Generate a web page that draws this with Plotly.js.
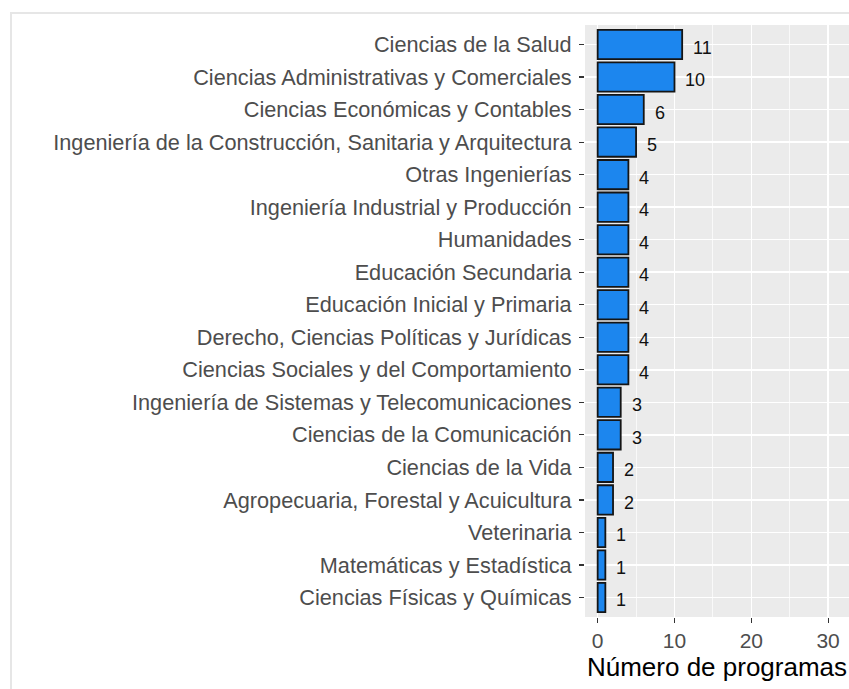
<!DOCTYPE html>
<html>
<head>
<meta charset="utf-8">
<script src="https://cdn.plot.ly/plotly-3.0.1.min.js"></script>
<style>
  html, body { margin:0; padding:0; background:#ffffff; overflow:hidden; }
  #wrap { position:relative; width:849px; height:689px; }
  #chart { position:absolute; left:0; top:0; width:849px; height:689px; }
  #frame { position:absolute; left:10px; top:12px; width:900px; height:800px;
           border:2px solid #e6e6e6; box-sizing:border-box; pointer-events:none; }
</style>
</head>
<body>
<div id="wrap">
  <div id="chart"></div>
  <div id="frame"></div>
</div>
<script>
// Categories listed top to bottom as they appear
const categories = [
  "Ciencias de la Salud",
  "Ciencias Administrativas y Comerciales",
  "Ciencias Económicas y Contables",
  "Ingeniería de la Construcción, Sanitaria y Arquitectura",
  "Otras Ingenierías",
  "Ingeniería Industrial y Producción",
  "Humanidades",
  "Educación Secundaria",
  "Educación Inicial y Primaria",
  "Derecho, Ciencias Políticas y Jurídicas",
  "Ciencias Sociales y del Comportamiento",
  "Ingeniería de Sistemas y Telecomunicaciones",
  "Ciencias de la Comunicación",
  "Ciencias de la Vida",
  "Agropecuaria, Forestal y Acuicultura",
  "Veterinaria",
  "Matemáticas y Estadística",
  "Ciencias Físicas y Químicas"
];
const programas = [11, 10, 6, 5, 4, 4, 4, 4, 4, 4, 4, 3, 3, 2, 2, 1, 1, 1];
const xTickValues = [0, 10, 20, 30];
const xTitle = "Número de programas";

const barTrace = {
  type: "bar",
  orientation: "h",
  x: programas,
  y: categories,
  width: 0.9,
  marker: { color: "#1C86EE", line: { color: "#151515", width: 1.8 } },
  hoverinfo: "x+y"
};

const annotations = programas.map((v, i) => ({
  x: v, y: categories[i], xref: "x", yref: "y",
  text: String(v), showarrow: false,
  xanchor: "left", yanchor: "middle",
  xshift: 9, yshift: -3,
  font: { family: "Liberation Sans, Arial, sans-serif", size: 18, color: "#111111" }
}));

const layout = {
  width: 849, height: 689,
  margin: { l: 585, r: 0, t: 25, b: 72, pad: 0 },
  paper_bgcolor: "rgba(0,0,0,0)",
  plot_bgcolor: "#EBEBEB",
  showlegend: false,
  font: { family: "Liberation Sans, Arial, sans-serif" },
  xaxis: {
    range: [-1.65, 32.72],
    tickvals: xTickValues,
    ticktext: xTickValues.map(String),
    ticks: "outside", ticklen: 5, tickwidth: 1.2, tickcolor: "#333333",
    tickfont: { size: 21, color: "#4D4D4D" },
    showgrid: true, gridcolor: "#FFFFFF", gridwidth: 1.5,
    minor: { dtick: 5, tick0: 5, showgrid: true, gridcolor: "#FFFFFF", gridwidth: 0.7, ticks: "" },
    zeroline: false, showline: false, automargin: false,
    title: { text: xTitle, font: { size: 26, color: "#000000" }, standoff: 4 }
  },
  yaxis: {
    type: "category",
    categoryorder: "array", categoryarray: categories,
    range: [17.6, -0.6],
    ticks: "outside", ticklen: 5, tickwidth: 1.2, tickcolor: "#333333",
    tickfont: { size: 21.7, color: "#4D4D4D" },
    ticklabelstandoff: 3,
    showgrid: true, gridcolor: "#FFFFFF", gridwidth: 1.5,
    zeroline: false, showline: false, automargin: false
  },
  annotations: annotations
};

Plotly.newPlot("chart", [barTrace], layout, { displayModeBar: false, staticPlot: true });
</script>
</body>
</html>
